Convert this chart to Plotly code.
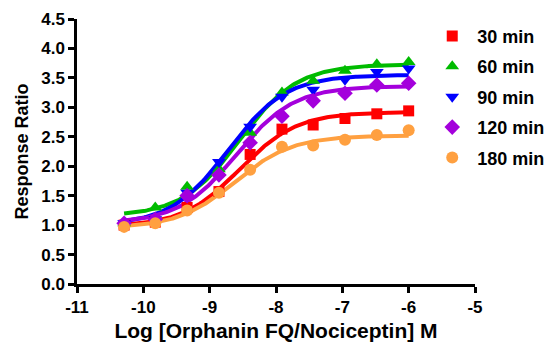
import numpy as np
import plotly.graph_objects as go

# Concentrations (log M), 3-fold dilutions
log_conc = [-10.29, -9.82, -9.34, -8.86, -8.39, -7.91, -7.44, -6.96, -6.48, -6.0]

series_names = ["30 min", "60 min", "90 min", "120 min", "180 min"]
resp_30 = [1.00, 1.05, 1.30, 1.57, 2.20, 2.63, 2.70, 2.81, 2.89, 2.94]
resp_60 = [1.03, 1.30, 1.65, 1.95, 2.57, 3.25, 3.45, 3.62, 3.73, 3.77]
resp_90 = [1.03, 1.10, 1.55, 2.07, 2.67, 3.18, 3.30, 3.47, 3.60, 3.66]
resp_120 = [1.03, 1.10, 1.50, 1.85, 2.40, 2.85, 3.11, 3.24, 3.38, 3.41]
resp_180 = [0.97, 1.03, 1.25, 1.55, 1.94, 2.33, 2.35, 2.45, 2.53, 2.61]

# Sigmoidal fit parameters (bottom, top, logEC50, hill)
fit_bottom = [0.97, 1.15, 1.00, 1.03, 0.95]
fit_top = [2.92, 3.73, 3.55, 3.36, 2.52]
fit_logec50 = [-8.55, -8.55, -8.72, -8.60, -8.62]
fit_hill = [1.0, 1.0, 1.0, 1.0, 1.0]

colors = ["#FF0000", "#00BB00", "#0000FF", "#A400DC", "#FFA040"]
symbols = ["square", "triangle-up", "triangle-down", "diamond", "circle"]
sizes = [11, 12, 12, 12, 12]

all_resp = [resp_30, resp_60, resp_90, resp_120, resp_180]

fig = go.Figure()
xfit = np.linspace(min(log_conc), max(log_conc), 200)
for i in range(5):
    yfit = fit_bottom[i] + (fit_top[i] - fit_bottom[i]) / (1 + 10 ** ((fit_logec50[i] - xfit) * fit_hill[i]))
    fig.add_trace(go.Scatter(x=xfit, y=yfit, mode="lines",
                             line=dict(color=colors[i], width=4),
                             showlegend=False, hoverinfo="skip"))
for i in range(5):
    fig.add_trace(go.Scatter(x=log_conc, y=all_resp[i], mode="markers", name=series_names[i],
                             marker=dict(color=colors[i], symbol=symbols[i], size=sizes[i],
                                         line=dict(width=0)),
                             legendgroup=series_names[i]))

fam = "Liberation Sans, Arial, sans-serif"
ytv = [0, 0.5, 1, 1.5, 2, 2.5, 3, 3.5, 4, 4.5]

fig.update_layout(
    width=548, height=345,
    margin=dict(l=77, r=73, t=19, b=61, autoexpand=False),
    paper_bgcolor="white", plot_bgcolor="white",
    font=dict(family=fam, color="black", size=17),
    legend=dict(x=0.88, y=1.005, xanchor="left", yanchor="top",
                font=dict(family=fam, size=18, color="black", weight="bold"),
                tracegroupgap=4, itemwidth=40, bgcolor="rgba(0,0,0,0)", itemclick=False),
    xaxis=dict(range=[-11, -5], tickvals=[-11, -10, -9, -8, -7, -6, -5], automargin=False,
               ticktext=["<b>%d</b>" % v for v in [-11, -10, -9, -8, -7, -6, -5]],
               showline=True, linecolor="black", linewidth=2.5, ticks="outside",
               ticklen=6, tickwidth=2.5, tickcolor="black", showgrid=False, zeroline=False,
               tickfont=dict(size=17),
               title=dict(text="<b>Log [Orphanin FQ/Nociceptin] M</b>", font=dict(size=21), standoff=8)),
    yaxis=dict(range=[0, 4.5], tickvals=ytv, automargin=False,
               ticktext=["<b>%.1f</b>" % v for v in ytv],
               showline=True, linecolor="black", linewidth=2.5, ticks="outside",
               ticklen=6, tickwidth=2.5, tickcolor="black", showgrid=False, zeroline=False,
               tickfont=dict(size=17),
               title=dict(text="<b>Response Ratio</b>", font=dict(size=18), standoff=8)),
)

fig.write_html("out.html", config={"displayModeBar": False},
               post_script="document.body.style.margin='0';")
